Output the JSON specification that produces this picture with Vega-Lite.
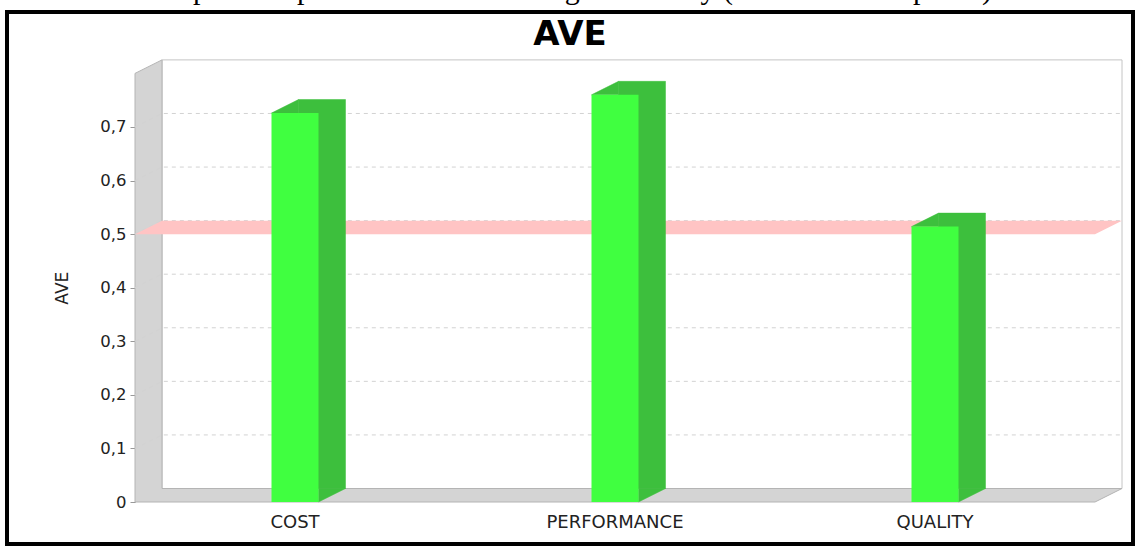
{
  "$schema": "https://vega.github.io/schema/vega-lite/v6.json",
  "autosize": "none",
  "width": 1126,
  "height": 532,
  "padding": {"left": 7, "top": 12, "right": 5, "bottom": 3},
  "background": "white",
  "title": {
    "text": "Graphical representation of convergent validity (Iteration 1 Chapter 4)",
    "subtitle": "AVE",
    "anchor": "middle",
    "frame": "group",
    "font": "Liberation Serif",
    "fontSize": 30,
    "fontWeight": "normal",
    "color": "black",
    "subtitleFont": "DejaVu Sans",
    "subtitleFontSize": 34,
    "subtitleFontWeight": "bold",
    "subtitleColor": "black",
    "subtitlePadding": 13,
    "offset": -40
  },
  "data": {"name": "ave"},
  "datasets": {
    "ave": [
      {"construct": "COST", "ave": 0.726},
      {"construct": "PERFORMANCE", "ave": 0.76},
      {"construct": "QUALITY", "ave": 0.514}
    ],
    "grid": [
      {"v": 0.1}, {"v": 0.2}, {"v": 0.3}, {"v": 0.4}, {"v": 0.5}, {"v": 0.6}, {"v": 0.7}
    ],
    "marker": [{"threshold": 0.5, "base": 0}]
  },
  "config": {
    "view": {"stroke": "black", "strokeWidth": 4, "fill": "white"},
    "font": "DejaVu Sans"
  },
  "layer": [
    {
      "data": {"name": "marker"},
      "mark": {"type": "point", "shape": "M -453 -13.5 L 507 -13.5 L 507 -442.1 L -453 -442.1 Z", "size": 4, "filled": true, "fill": "white", "stroke": "#c4c4c4", "strokeWidth": 1, "opacity": 1},
      "encoding": {
        "x": {
          "datum": "PERFORMANCE", "type": "nominal",
          "scale": {"domain": ["COST", "PERFORMANCE", "QUALITY"], "range": [128, 1088], "paddingInner": 0, "paddingOuter": 0},
          "axis": {"orient": "bottom", "offset": -42, "domain": false, "ticks": false, "grid": false, "labelPadding": 11, "labelFontSize": 18, "labelColor": "#222222", "labelFont": "DejaVu Sans", "labelAngle": 0, "title": null}
        },
        "y": {
          "field": "base", "type": "quantitative",
          "scale": {"domain": [0, 0.8], "range": [490, 61.4], "nice": false, "zero": true},
          "axis": {"orient": "left", "offset": -128, "values": [0, 0.1, 0.2, 0.3, 0.4, 0.5, 0.6, 0.7], "labelExpr": "datum.value == 0 ? '0' : replace(format(datum.value, '.1f'), '.', ',')", "grid": false, "domainColor": "#999999", "tickColor": "#999999", "tickSize": 5, "labelFontSize": 16.5, "labelColor": "#222222", "labelPadding": 4, "title": "AVE", "titleFontSize": 17, "titleFontWeight": "normal", "titleColor": "#222222", "titlePadding": 28}
        }
      }
    },
    {
      "data": {"name": "marker"},
      "mark": {"type": "point", "shape": "M -480 0 L 480 0 L 507 -13.5 L -453 -13.5 L -453 -442.1 L -480 -428.6 Z", "size": 4, "filled": true, "fill": "#d4d4d4", "stroke": "#b4b4b4", "strokeWidth": 1, "opacity": 1},
      "encoding": {
        "x": {"datum": "PERFORMANCE", "type": "nominal"},
        "y": {"field": "base", "type": "quantitative"}
      }
    },
    {
      "data": {"name": "grid"},
      "mark": {"type": "point", "shape": "M -480 0 L -453 -13.5 L 507 -13.5", "size": 4, "filled": false, "stroke": "#d2d2d2", "strokeWidth": 1, "strokeDash": [4, 4], "opacity": 1},
      "encoding": {
        "x": {"datum": "PERFORMANCE", "type": "nominal"},
        "y": {"field": "v", "type": "quantitative"}
      }
    },
    {
      "data": {"name": "marker"},
      "mark": {"type": "point", "shape": "M -480 0 L 480 0 L 507 -13.5 L -453 -13.5 Z", "size": 4, "filled": true, "fill": "#ffc4c4", "strokeWidth": 0, "opacity": 1},
      "encoding": {
        "x": {"datum": "PERFORMANCE", "type": "nominal"},
        "y": {"field": "threshold", "type": "quantitative"}
      }
    },
    {
      "mark": {"type": "bar", "size": 47, "color": "#3dbf3d", "stroke": "#3dbf3d", "strokeWidth": 0.5, "xOffset": 27, "yOffset": -13.5, "y2Offset": -13.5},
      "encoding": {
        "x": {"field": "construct", "type": "nominal"},
        "y": {"field": "ave", "type": "quantitative"}
      }
    },
    {
      "mark": {"type": "point", "shape": "M -23.5 0 L 3.5 -13.5 L 3.5 0 Z", "size": 4, "filled": true, "fill": "#3dbf3d", "stroke": "#3dbf3d", "strokeWidth": 0.5, "opacity": 1},
      "encoding": {
        "x": {"field": "construct", "type": "nominal"},
        "y": {"field": "ave", "type": "quantitative"}
      }
    },
    {
      "mark": {"type": "point", "shape": "M 23.5 0 L 50.5 -13.5 L 23.5 -13.5 Z", "size": 4, "filled": true, "fill": "#3dbf3d", "stroke": "#3dbf3d", "strokeWidth": 0.5, "opacity": 1},
      "encoding": {
        "x": {"field": "construct", "type": "nominal"},
        "y": {"datum": 0, "type": "quantitative"}
      }
    },
    {
      "mark": {"type": "bar", "size": 47, "color": "#40ff40"},
      "encoding": {
        "x": {"field": "construct", "type": "nominal"},
        "y": {"field": "ave", "type": "quantitative"}
      }
    }
  ]
}
